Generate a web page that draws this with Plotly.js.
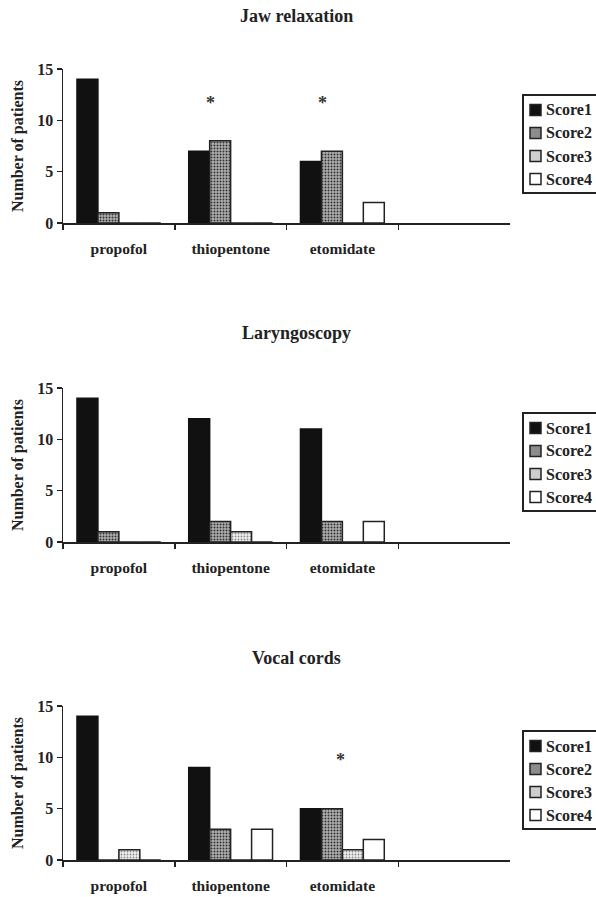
<!DOCTYPE html>
<html>
<head>
<meta charset="utf-8">
<script src="https://cdn.plot.ly/plotly-3.0.1.min.js"></script>
<style>html,body{margin:0;padding:0;background:#fff;}#chart{width:596px;height:897px;}</style>
</head>
<body>
<div id="chart"></div>
<script>
// ---- data ----
const categories = ["propofol", "thiopentone", "etomidate"];
const seriesNames = ["Score1", "Score2", "Score3", "Score4"];
const panelTitles = ["Jaw relaxation", "Laryngoscopy", "Vocal cords"];

const jawScore1 = [14, 7, 6];
const jawScore2 = [1, 8, 7];
const jawScore3 = [0, 0, 0];
const jawScore4 = [0, 0, 2];

const larScore1 = [14, 12, 11];
const larScore2 = [1, 2, 2];
const larScore3 = [0, 1, 0];
const larScore4 = [0, 0, 2];

const vocScore1 = [14, 9, 5];
const vocScore2 = [0, 3, 5];
const vocScore3 = [1, 0, 1];
const vocScore4 = [0, 3, 2];

// significance markers: panel index, x (category position), y (value)
const starPanel = [0, 0, 2];
const starX = [0.816, 1.82, 1.98];
const starY = [11.7, 11.7, 9.7];

const yTicks = [0, 5, 10, 15];

// ---- styles ----
const FONT = "Liberation Serif, Times New Roman, serif";
const INK = "#222";
const panels = [
  [jawScore1, jawScore2, jawScore3, jawScore4],
  [larScore1, larScore2, larScore3, larScore4],
  [vocScore1, vocScore2, vocScore3, vocScore4]
];
const markerStyles = [
  {color: "#111111", line: {color: "#111", width: 1.5}},
  {color: "#9a9a9a", line: {color: INK, width: 1.5},
   pattern: {shape: ".", fgcolor: "#333333", bgcolor: "#b0b0b0", size: 3, solidity: 0.35}},
  {color: "#dddddd", line: {color: INK, width: 1.5},
   pattern: {shape: ".", fgcolor: "#8a8a8a", bgcolor: "#f0f0f0", size: 3, solidity: 0.3}},
  {color: "#ffffff", line: {color: INK, width: 1.5}}
];
const legendSwatch = ["#111111", "#8c8c8c", "#cfcfcf", "#ffffff"];

const W = 596, H = 897;
const px = v => v / W;
const py = v => 1 - v / H;
const xDom = [px(63), px(510)];
const axisPix = [[69, 223], [388, 542], [706, 860]];
const titlePix = [16, 333, 658];
const legendTopPix = [95, 413, 731];

const traces = [];
panels.forEach((series, p) => {
  const sfx = p === 0 ? "" : String(p + 1);
  series.forEach((vals, s) => {
    traces.push({
      type: "bar",
      x: categories,
      y: vals,
      name: seriesNames[s],
      marker: markerStyles[s],
      xaxis: "x" + sfx,
      yaxis: "y" + sfx,
      showlegend: false,
      hoverinfo: "skip"
    });
  });
});

const layout = {
  width: W, height: H,
  margin: {l: 0, r: 0, t: 0, b: 0, autoexpand: false},
  paper_bgcolor: "#fff", plot_bgcolor: "#fff",
  font: {family: FONT, color: INK, size: 14, weight: "bold"},
  barmode: "group",
  bargap: 0.25,
  bargroupgap: 0,
  showlegend: false,
  annotations: [],
  shapes: []
};

panels.forEach((_, p) => {
  const sfx = p === 0 ? "" : String(p + 1);
  const yDom = [py(axisPix[p][1]), py(axisPix[p][0])];
  layout["xaxis" + sfx] = {
    domain: xDom,
    anchor: "y" + sfx,
    type: "category",
    categoryorder: "array",
    categoryarray: categories,
    range: [-0.5, 3.5],
    automargin: false,
    showline: true, linecolor: INK, linewidth: 1.5,
    ticks: "outside", tickson: "boundaries", ticklen: 5, tickwidth: 1.5, tickcolor: INK,
    showgrid: false, zeroline: false,
    tickfont: {family: FONT, size: 15.5, weight: "bold", color: INK},
    ticklabelstandoff: 11,
    fixedrange: true
  };
  layout["yaxis" + sfx] = {
    domain: yDom,
    anchor: "x" + sfx,
    range: [0, 15],
    tickvals: yTicks,
    automargin: false,
    showline: true, linecolor: INK, linewidth: 1.5,
    ticks: "outside", ticklen: 5, tickwidth: 1.5, tickcolor: INK,
    showgrid: false, zeroline: false,
    tickfont: {family: FONT, size: 16, weight: "bold", color: INK},
    title: {text: "Number of patients", font: {family: FONT, size: 16, weight: "bold", color: INK}, standoff: 9},
    fixedrange: true
  };

  // panel title
  layout.annotations.push({
    xref: "paper", yref: "paper",
    x: px(296), y: py(titlePix[p]),
    xanchor: "center", yanchor: "middle",
    text: panelTitles[p], showarrow: false,
    font: {family: FONT, size: 18, weight: "bold", color: INK}
  });

  // legend box
  const top = legendTopPix[p];
  layout.shapes.push({
    type: "rect", xref: "paper", yref: "paper",
    x0: px(523), x1: px(602), y0: py(top + 98), y1: py(top),
    line: {color: INK, width: 2}, fillcolor: "rgba(0,0,0,0)"
  });
  seriesNames.forEach((nm, s) => {
    const cy = top + 15 + s * 23;
    layout.shapes.push({
      type: "rect", xref: "paper", yref: "paper",
      x0: px(530), x1: px(541), y0: py(cy + 5.5), y1: py(cy - 5.5),
      line: {color: INK, width: 1.5}, fillcolor: legendSwatch[s]
    });
    layout.annotations.push({
      xref: "paper", yref: "paper",
      x: px(544), y: py(cy),
      xanchor: "left", yanchor: "middle",
      text: nm, showarrow: false,
      font: {family: FONT, size: 16, weight: "bold", color: INK}
    });
  });
});

starPanel.forEach((p, i) => {
  const sfx = p === 0 ? "" : String(p + 1);
  layout.annotations.push({
    xref: "x" + sfx, yref: "y" + sfx,
    x: starX[i], y: starY[i],
    text: "*", showarrow: false,
    font: {family: FONT, size: 18, weight: "bold", color: "#333"}
  });
});

Plotly.newPlot("chart", traces, layout, {displayModeBar: false, staticPlot: true});
</script>
</body>
</html>
